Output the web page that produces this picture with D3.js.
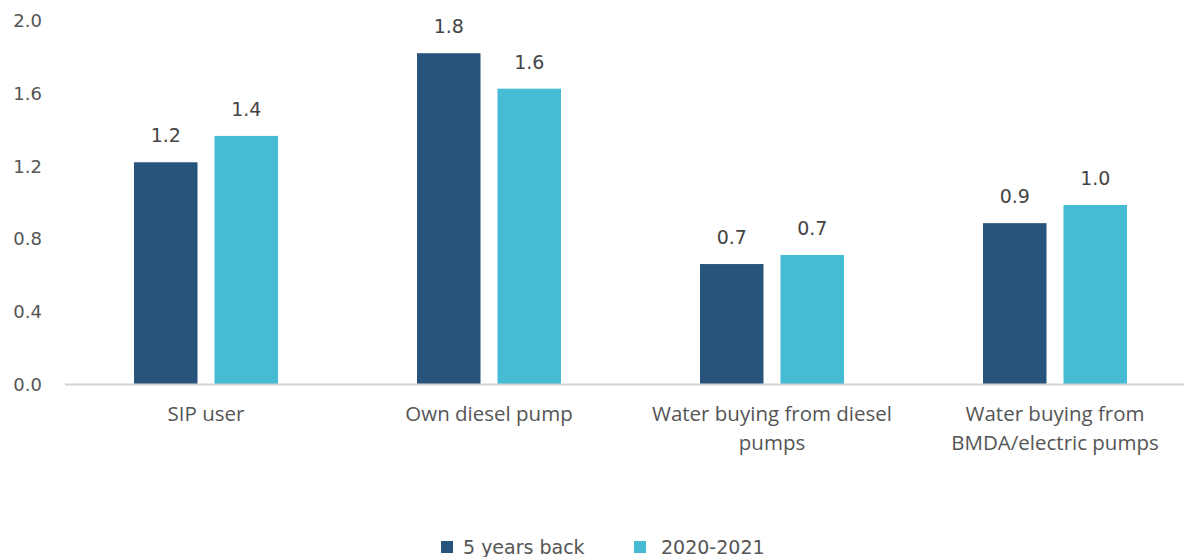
<!DOCTYPE html>
<html>
<head>
<meta charset="utf-8">
<script src="https://cdn.jsdelivr.net/npm/d3@7"></script>
<style>
  html, body { margin: 0; padding: 0; background: #fff; }
  svg { display: block; }
</style>
</head>
<body>
<svg id="chart" width="1184" height="557"></svg>
<script>
// Irrigation cost by source, two periods
const categories = [
  ["SIP user"],
  ["Own diesel pump"],
  ["Water buying from diesel", "pumps"],
  ["Water buying from", "BMDA/electric pumps"]
];
const seriesNames = ["5 years back", "2020-2021"];
const fiveYearsBack = [1.22, 1.82, 0.66, 0.885];
const year2020_21 = [1.365, 1.625, 0.71, 0.985];
const yTicks = [0.0, 0.4, 0.8, 1.2, 1.6, 2.0];
const colors = ["#28547b", "#45bcd4"];

const svg = d3.select("#chart");
const W = 1184, H = 557;
const baseY = 384, topY = 20.5;
const numFont = "'DejaVu Sans', sans-serif";
const catFont = "'Open Sans', 'Noto Sans', sans-serif";

const y = d3.scaleLinear().domain([0, 2.0]).range([baseY, topY]);
const x = d3.scaleBand().domain(d3.range(categories.length)).range([64.5, 1196.5]).padding(0);

const series = [fiveYearsBack, year2020_21];
const inner = d3.scaleBand().domain([0, 1]).range([-72, 72]).paddingInner(0.211);

// y axis labels
const yAxis = d3.axisLeft(y).tickValues(yTicks).tickFormat(d3.format(".1f")).tickSize(0).tickPadding(0);
const yg = svg.append("g").attr("transform", "translate(42,0)").call(yAxis);
yg.select(".domain").remove();
yg.selectAll("text")
  .attr("font-family", numFont).attr("font-size", 18).attr("fill", "#555")
  .attr("x", 0).attr("text-anchor", "end").attr("dy", "0.35em");

// bars
series.forEach((vals, si) => {
  const g = svg.append("g");
  g.selectAll("rect").data(vals).join("rect")
    .attr("x", (d, i) => x(i) + x.bandwidth() / 2 + inner(si))
    .attr("width", inner.bandwidth())
    .attr("y", d => y(d))
    .attr("height", d => baseY - y(d))
    .attr("fill", colors[si]);
  g.selectAll("text").data(vals).join("text")
    .attr("x", (d, i) => x(i) + x.bandwidth() / 2 + inner(si) + inner.bandwidth() / 2)
    .attr("y", d => y(d) - 20)
    .attr("text-anchor", "middle")
    .attr("font-family", numFont).attr("font-size", 19).attr("fill", "#444")
    .text(d => d3.format(".1f")(d));
});

// baseline
svg.append("line")
  .attr("x1", 65).attr("x2", W).attr("y1", baseY + 0.5).attr("y2", baseY + 0.5)
  .attr("stroke", "#d4d4d4").attr("stroke-width", 2);

// category labels
const xAxis = d3.axisBottom(x).tickFormat(() => "").tickSize(0);
const xg = svg.append("g").attr("transform", `translate(0,${baseY})`).call(xAxis);
xg.select(".domain").remove();
xg.selectAll(".tick").each(function (d) {
  const t = d3.select(this).select("text")
    .attr("y", 0).attr("dy", null)
    .attr("font-family", catFont).attr("font-size", 20.5).attr("fill", "#555")
    .attr("text-anchor", "middle");
  categories[d].forEach((line, li) => {
    t.append("tspan").attr("x", 0).attr("y", 37 + li * 29).text(line);
  });
});

// legend
const legendItems = [{ x: 441, tx: 463 }, { x: 634, tx: 661 }];
const lg = svg.append("g");
seriesNames.forEach((name, i) => {
  lg.append("rect").attr("x", legendItems[i].x).attr("y", 541).attr("width", 12).attr("height", 12).attr("fill", colors[i]);
  lg.append("text").attr("x", legendItems[i].tx).attr("y", 554)
    .attr("font-family", numFont).attr("font-size", 19).attr("fill", "#555").text(name);
});
</script>
</body>
</html>
